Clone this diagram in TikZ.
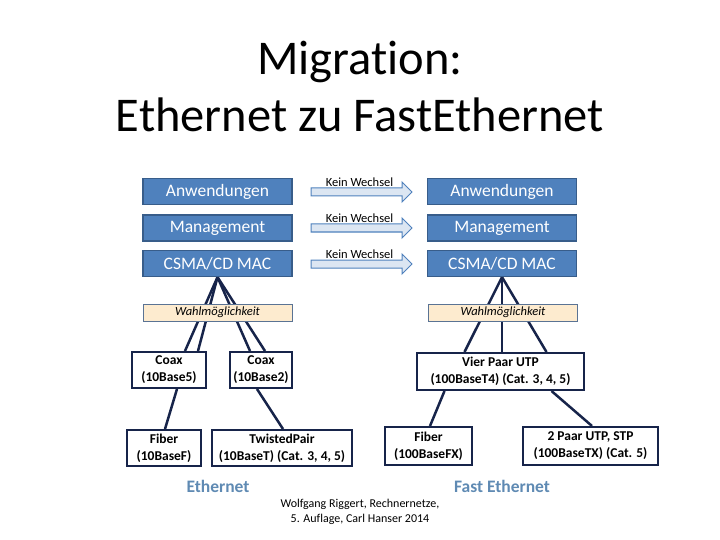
\documentclass[tikz,border=0pt]{standalone}
\usepackage{fontspec}
\setmainfont{Carlito}[Ligatures={NoCommon}]
\usetikzlibrary{shapes.arrows,backgrounds}
\definecolor{layerblue}{HTML}{4F81BD}
\definecolor{layerborder}{HTML}{385D8A}
\definecolor{arrowfill}{HTML}{DCE6F2}
\definecolor{choicefill}{HTML}{FDEBCF}
\definecolor{choiceborder}{HTML}{5A7394}
\definecolor{navy}{HTML}{17244A}
\definecolor{netblue}{HTML}{5F8AB3}
\begin{document}
\begin{tikzpicture}[x=1pt,y=-1pt,
    layer/.style={draw=layerborder, line width=1.2pt, fill=layerblue, text=white,
        minimum width=149pt, minimum height=26pt, inner sep=0pt, font=\fontsize{17.5}{19}\selectfont},
    keep/.style={single arrow, draw=layerblue, line width=1pt, fill=arrowfill,
        minimum height=101pt, minimum width=20pt, inner sep=3.5pt, single arrow head extend=6pt,
        label={[label distance=-2.5pt, font=\fontsize{12.5}{13}\selectfont]above:Kein Wechsel}},
    choice/.style={draw=choiceborder, line width=1pt, fill=choicefill,
        minimum width=149pt, minimum height=17pt, inner sep=0pt, font=\fontsize{12.5}{13}\selectfont\itshape},
    medium/.style={draw=navy, line width=2pt, fill=white, align=center, inner sep=0pt,
        minimum height=36pt, font=\fontsize{13.5}{17}\selectfont\bfseries},
    wire/.style={draw=navy, line width=2.5pt}]
    \useasboundingbox (0,0) rectangle (720,540);

    % Titel
    \node[align=center, font=\fontsize{48.5}{57}\selectfont] (title) at (360,86)
        {Migration:\\Ethernet zu FastEthernet};

    % Ethernet Schichten
    \node[layer] (appL) at (217.5,191.5) {Anwendungen};
    \node[layer] (mgmtL) at (217.5,228) {Management};
    \node[layer] (macL) at (217.5,263.5) {CSMA/CD MAC};

    % Fast Ethernet Schichten
    \node[layer] (appR) at (502,191.5) {Anwendungen};
    \node[layer] (mgmtR) at (502,228) {Management};
    \node[layer] (macR) at (502,263.5) {CSMA/CD MAC};

    % Kein Wechsel
    \node[keep] (keepApp) at (359.5,192) {};
    \node[keep] (keepMgmt) at (359.5,228) {};
    \node[keep] (keepMac) at (359.5,264) {};

    % Wahlmoeglichkeit
    \node[choice] (choiceL) at (217.5,312.5) {Wahlmöglichkeit};
    \node[choice] (choiceR) at (503,312.5) {Wahlmöglichkeit};

    % Ethernet Medien
    \node[medium, minimum width=74pt] (coaxA) at (169,370) {Coax\\(10Base5)};
    \node[medium, minimum width=62pt] (coaxB) at (261,370) {Coax\\(10Base2)};
    \node[medium, minimum width=74pt] (fiberE) at (164,448) {Fiber\\(10BaseF)};
    \node[medium, minimum width=140pt] (twisted) at (282,448) {TwistedPair\\(10BaseT) (Cat. 3, 4, 5)};

    % Fast Ethernet Medien
    \node[medium, minimum width=167pt, minimum height=37pt] (utp) at (500.5,371.5) {Vier Paar UTP\\(100BaseT4) (Cat. 3, 4, 5)};
    \node[medium, minimum width=87pt, minimum height=38pt] (fiberF) at (428.5,446) {Fiber\\(100BaseFX)};
    \node[medium, minimum width=135pt, minimum height=38pt] (stp) at (590.5,446) {2 Paar UTP, STP\\(100BaseTX) (Cat. 5)};

    % Verbindungen
    \begin{scope}[on background layer]
        \draw[wire] (macL.south) -- ([xshift=16pt]coaxA.north);
        \draw[wire] (macL.south) -- ([xshift=29pt]coaxA.north);
        \draw[wire] (macL.south) -- ([xshift=-11pt]coaxB.north);
        \draw[wire] (macL.south) -- ([xshift=4pt]coaxB.north);
        \draw[wire] ([xshift=8pt]coaxA.south) -- ([xshift=1pt]fiberE.north);
        \draw[wire] ([xshift=-4pt]coaxB.south) -- ([xshift=1pt]twisted.north);
        \draw[wire] (macR.south) -- ([xshift=-36pt]utp.north);
        \draw[wire] (macR.south) -- ([xshift=1.5pt]utp.north);
        \draw[wire] (macR.south) -- ([xshift=46pt]utp.north);
        \draw[wire] ([xshift=-56pt]utp.south) -- ([xshift=1.5pt]fiberF.north);
        \draw[wire] ([xshift=51pt]utp.south) -- ([xshift=1.5pt]stp.north);
    \end{scope}

    % Beschriftung
    \node[text=netblue, font=\fontsize{17.5}{19}\selectfont\bfseries] (eth) at (218,486) {Ethernet};
    \node[text=netblue, font=\fontsize{17.5}{19}\selectfont\bfseries] (fasteth) at (502,486) {Fast Ethernet};
    \node[align=center, font=\fontsize{12}{15.5}\selectfont] (source) at (360,512)
        {Wolfgang Riggert, Rechnernetze,\\5. Auflage, Carl Hanser 2014};
\end{tikzpicture}
\end{document}
